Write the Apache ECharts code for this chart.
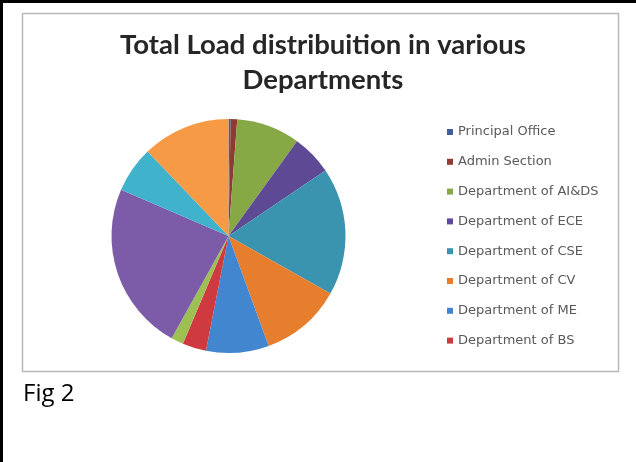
<!DOCTYPE html>
<html>
<head>
<meta charset="utf-8">
<script src="https://cdn.jsdelivr.net/npm/echarts@6/dist/echarts.min.js"></script>
<style>
html,body{margin:0;padding:0;background:#fff;}
#c{width:636px;height:462px;}
</style>
</head>
<body>
<div id="c"></div>
<script>
// Data (percent share of total load)
var departments = [
  "Principal Office", "Admin Section", "Department of AI&DS", "Department of ECE",
  "Department of CSE", "Department of CV", "Department of ME", "Department of BS",
  "Other 1", "Other 2", "Other 3", "Other 4"
];
var loads = [0.3, 0.9, 8.8, 5.6, 17.7, 11.3, 8.7, 3.3, 1.7, 23.5, 6.4, 12.2];
var legendNames = departments.slice(0, 8);
var sliceColors = ["#3F5F96", "#8E3B32", "#86A845", "#5E4A94", "#3A94B0", "#E67E2E",
                   "#4386D0", "#CF3A40", "#9CC152", "#7C5BA8", "#40B2CC", "#F79A45"];

var chart = echarts.init(document.getElementById('c'), null, {renderer: 'canvas'});
var pieData = departments.map(function (n, i) {
  return {name: n, value: loads[i], itemStyle: {color: sliceColors[i]}};
});
chart.setOption({
  backgroundColor: '#ffffff',
  animation: false,
  title: {
    text: 'Total Load distribuition in various\nDepartments',
    left: 318, top: 23, textAlign: 'center',
    textStyle: {fontFamily: 'Lato', fontWeight: 'bold', fontSize: 27.5, color: '#262626', lineHeight: 35}
  },
  legend: {
    orient: 'vertical',
    left: 442, top: 120,
    data: legendNames,
    icon: 'rect',
    itemWidth: 6, itemHeight: 6,
    itemGap: 15.8,
    itemTextGap: 8,
    textStyle: {fontFamily: 'DejaVu Sans', fontSize: 13, color: '#595959', lineHeight: 14}
  },
  graphic: [
    {type: 'line', shape: {x1: 0, y1: 1.5, x2: 636, y2: 1.5}, style: {stroke: '#000', lineWidth: 3}},
    {type: 'line', shape: {x1: 1.5, y1: 0, x2: 1.5, y2: 462}, style: {stroke: '#000', lineWidth: 3}},
    {type: 'rect', shape: {x: 22.5, y: 13.5, width: 596, height: 358}, style: {fill: null, stroke: '#b8b8b8', lineWidth: 1.5}, z: -1},
    {type: 'text', left: 23, top: 382, style: {text: 'Fig 2', font: '24px "Open Sans", sans-serif', fill: '#000'}}
  ],
  series: [{
    type: 'pie',
    center: [228.5, 236],
    radius: 117,
    startAngle: 90,
    clockwise: true,
    label: {show: false},
    labelLine: {show: false},
    emphasis: {disabled: true},
    itemStyle: {borderWidth: 0},
    data: pieData
  }]
});
</script>
</body>
</html>
